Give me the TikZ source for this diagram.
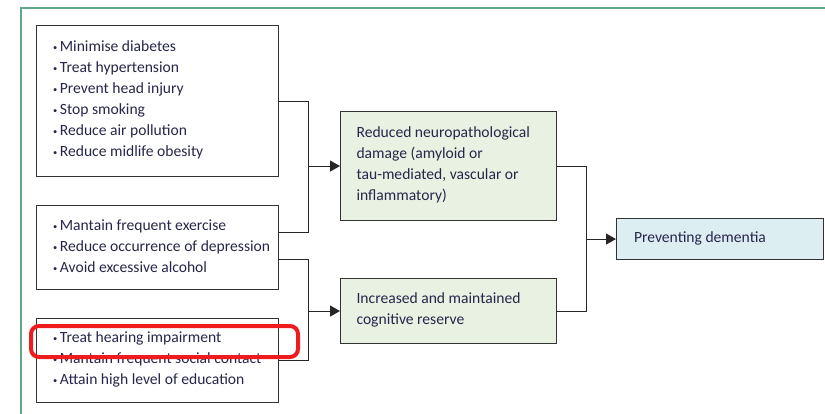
\documentclass[tikz,border=0pt]{standalone}
\usepackage{fontspec}
\setmainfont{Carlito}
\usetikzlibrary{arrows.meta}
\definecolor{framegreen}{HTML}{5FA888}
\definecolor{txt}{HTML}{26264A}
\definecolor{greenfill}{HTML}{E9F1E2}
\definecolor{bluefill}{HTML}{DDEEF3}
\definecolor{hired}{HTML}{EE1C1C}
\newcommand{\bul}{{\fontsize{8.5}{8.5}\selectfont\raisebox{0.3ex}{•}}\,}
\newcommand{\txtbox}[2]{\parbox{#1}{#2\par\vspace{2pt}}}
\begin{document}
\begin{tikzpicture}[x=1pt,y=-1pt,
  box/.style={draw=black!80,line width=1.1pt,anchor=north west,align=left,
    text=txt,font=\fontsize{15.6}{21}\selectfont,inner xsep=0pt,inner ysep=0pt},
  conn/.style={line width=1pt,black!85},
  arr/.style={conn,-{Triangle[length=10pt,width=11pt]}}]
\useasboundingbox (0,0) rectangle (825,414);
\draw[framegreen,line width=2pt] (21,414) -- (21,8) -- (825,8);
\node[box,minimum width=242pt,minimum height=151pt] (b1) at (36,25)
  {\hspace*{15pt}\txtbox{224pt}{\bul Minimise diabetes\\ \bul Treat hypertension\\ \bul Prevent head injury\\ \bul Stop smoking\\ \bul Reduce air pollution\\ \bul Reduce midlife obesity}};
\node[box,minimum width=242pt,minimum height=84pt] (b2) at (36,205)
  {\hspace*{15pt}\txtbox{224pt}{\bul Mantain frequent exercise\\ \bul Reduce occurrence of depression\\ \bul Avoid excessive alcohol}};
\node[box,minimum width=242pt,minimum height=84pt] (b3) at (36,318)
  {\hspace*{15pt}\txtbox{224pt}{\bul Treat hearing impairment\\ \bul Mantain frequent social contact\\ \bul Attain high level of education}};
\node[box,fill=greenfill,minimum width=216pt,minimum height=109pt] (b4) at (340,111)
  {\hspace*{14pt}\txtbox{198pt}{Reduced neuropathological\\ damage (amyloid or\\ tau-mediated, vascular or\\ inflammatory)}};
\node[box,fill=greenfill,minimum width=216pt,minimum height=65pt] (b5) at (340,278)
  {\hspace*{14pt}\txtbox{198pt}{Increased and maintained\\ cognitive reserve}};
\node[box,fill=bluefill,minimum width=207pt,minimum height=41pt] (b6) at (616,218)
  {\hspace*{16pt}\txtbox{188pt}{Preventing dementia}};
\coordinate (j1) at (308,0);
\coordinate (j3) at (586,0);
\draw[conn] (b1.east) -| (j1 |- 0,233) -- (b2.east |- 0,233);
\draw[conn] (b2.east |- 0,260) -| (j1 |- b3.east) -- (b3.east);
\coordinate (a1) at (j1 |- b4.west);
\coordinate (a2) at (j1 |- b5.west);
\draw[arr] (a1) -- (b4.west);
\draw[arr] (a2) -- (b5.west);
\draw[conn] (b4.east) -| (j3 |- b5.east) -- (b5.east);
\coordinate (a3) at (j3 |- b6.west);
\draw[arr] (a3) -- (b6.west);
\node[draw=hired,line width=4pt,rounded corners=8pt,minimum width=267pt,minimum height=31pt,anchor=north west,inner sep=0pt] (hl) at (29,324) {};
\end{tikzpicture}
\end{document}
